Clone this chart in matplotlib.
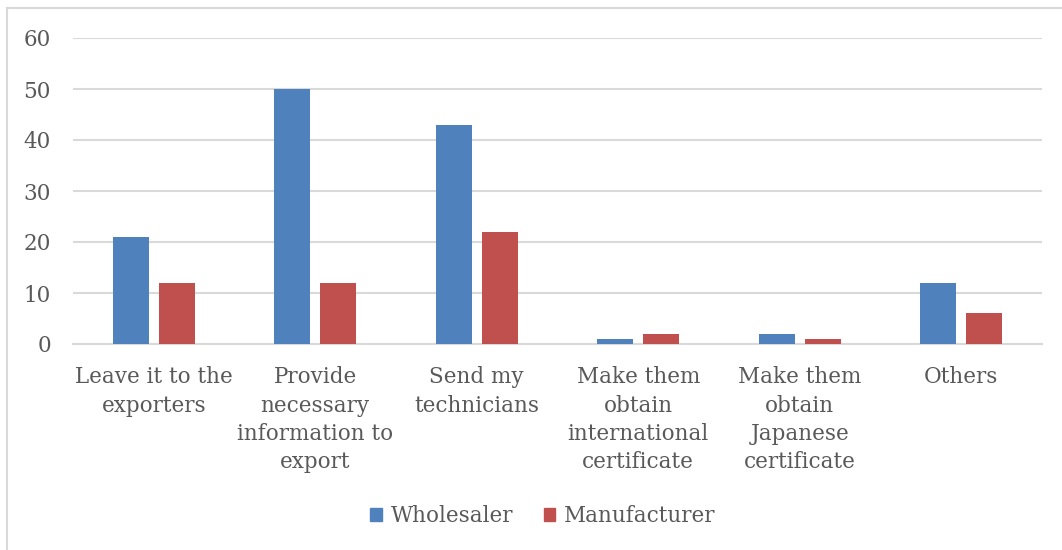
import matplotlib.pyplot as plt
from matplotlib.patches import Patch, Rectangle
import numpy as np

categories = ["Leave it to the\nexporters",
              "Provide\nnecessary\ninformation to\nexport",
              "Send my\ntechnicians",
              "Make them\nobtain\ninternational\ncertificate",
              "Make them\nobtain\nJapanese\ncertificate",
              "Others"]
wholesaler = [21, 50, 43, 1, 2, 12]
manufacturer = [12, 12, 22, 2, 1, 6]
yticks = [0, 10, 20, 30, 40, 50, 60]

blue = "#4F81BD"
red = "#C0504D"
text_color = "#595959"
grid_color = "#D9D9D9"

plt.rcParams['font.family'] = ['DejaVu Serif']

fig = plt.figure(figsize=(10.62, 5.5), dpi=100)
# outer chart frame
fig.patches.append(Rectangle((7 / 1062, -0.1), 1.2, 1 - 8 / 550 + 0.1,
                             transform=fig.transFigure, fill=False,
                             edgecolor=grid_color, linewidth=1.5))

ax = fig.add_axes([73 / 1062, 1 - 344 / 550, (1042 - 73) / 1062, (344 - 38) / 550])

x = np.arange(len(categories))
w = 0.223
ax.bar(x - 0.142, wholesaler, width=w, color=blue, zorder=3)
ax.bar(x + 0.142, manufacturer, width=w, color=red, zorder=3)

ax.set_xlim(-0.5, len(categories) - 0.5)
ax.set_ylim(0, 60)
ax.set_yticks(yticks)
ax.grid(axis='y', color=grid_color, linewidth=1.5, zorder=0)
for s in ['top', 'right', 'left']:
    ax.spines[s].set_visible(False)
ax.spines['bottom'].set_color(grid_color)
ax.spines['bottom'].set_linewidth(1.5)
ax.tick_params(axis='both', length=0, labelsize=15.5, colors=text_color)
ax.tick_params(axis='y', pad=16)
ax.tick_params(axis='x', pad=16)
ax.set_xticks(x)
ax.set_xticklabels(categories, linespacing=1.37, va='top')

handles = [Patch(color=blue, label="Wholesaler"), Patch(color=red, label="Manufacturer")]
fig.legend(handles=handles, loc='center', bbox_to_anchor=(543 / 1062, 1 - 516 / 550),
           ncol=2, frameon=False, fontsize=15.5, labelcolor=text_color,
           handlelength=0.55, handleheight=0.55, handletextpad=0.4, columnspacing=1.4)

fig.savefig("out.png", dpi=100)
